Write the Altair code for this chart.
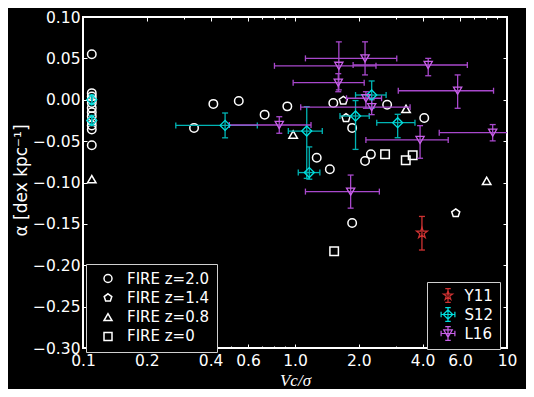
import altair as alt
import pandas as pd

W, H = 424, 331

# ---------------- data ----------------
# FIRE z=2.0 (circles)
fire_z20_x = [0.11, 0.11, 0.11, 0.11, 0.11, 0.11, 0.11, 0.11, 0.11, 0.11, 0.11, 0.11,
              0.334, 0.412, 0.543, 0.719, 0.92, 1.516, 2.72, 1.86, 4.07, 1.266, 1.46, 2.14, 2.28, 1.86]
fire_z20_y = [0.055, 0.008, 0.004, 0.0, -0.004, -0.010, -0.015, -0.020, -0.026, -0.031, -0.036, -0.055,
              -0.034, -0.005, -0.0015, -0.018, -0.008, -0.004, -0.006, -0.034, -0.022, -0.070, -0.084, -0.074, -0.066, -0.149]
# FIRE z=1.4 (pentagons)
fire_z14_x = [1.69, 1.74, 5.73]
fire_z14_y = [-0.001, -0.022, -0.137]
# FIRE z=0.8 (triangles)
fire_z08_x = [0.11, 0.98, 3.34, 8.02]
fire_z08_y = [-0.096, -0.042, -0.011, -0.098]
# FIRE z=0 (squares)
fire_z0_x = [2.66, 3.33, 3.59, 1.53]
fire_z0_y = [-0.066, -0.073, -0.067, -0.183]

fire_names = ["FIRE z=2.0", "FIRE z=1.4", "FIRE z=0.8", "FIRE z=0"]

# Y11
y11_x = [3.97]
y11_y = [-0.161]
y11_ymin = [-0.1816]
y11_ymax = [-0.141]

# S12
s12_x = [0.11, 0.11, 0.468, 2.30, 1.93, 3.05, 1.136, 1.168]
s12_y = [0.0, -0.025, -0.031, 0.0057, -0.0196, -0.0277, -0.0378, -0.088]
s12_xmin = [0.11, 0.11, 0.274, 1.93, 1.63, 2.43, 0.93, 1.036]
s12_xmax = [0.11, 0.11, 0.664, 2.69, 2.24, 3.68, 1.345, 1.31]
s12_ymin = [-0.006, -0.031, -0.046, -0.0103, -0.060, -0.0459, -0.095, -0.096]
s12_ymax = [0.006, -0.019, -0.016, 0.0227, -0.001, -0.0176, -0.0084, -0.057]

# L16
l16_x = [0.843, 1.61, 1.60, 2.14, 4.25, 5.85, 2.16, 2.30, 3.89, 8.56, 1.83]
l16_y = [-0.0305, 0.041, 0.0206, 0.050, 0.042, 0.0109, 0.0018, -0.009, -0.0486, -0.0398, -0.111]
l16_xmin = [0.49, 0.80, 0.98, 1.12, 1.88, 3.07, 1.75, 1.064, 2.16, 4.79, 1.12]
l16_xmax = [1.19, 2.41, 2.12, 3.02, 6.5, 8.64, 2.56, 3.49, 5.28, 12.3, 2.50]
l16_ymin = [-0.0405, 0.012, 0.0097, 0.030, 0.029, -0.0103, -0.0103, -0.018, -0.0707, -0.0497, -0.131]
l16_ymax = [-0.0205, 0.070, 0.0315, 0.070, 0.050, 0.030, 0.0097, 0.000, -0.0313, -0.030, -0.091]

obs_names = ["Y11", "S12", "L16"]

x_major = [0.1, 0.2, 0.4, 0.6, 1, 2, 4, 6, 10]
x_minor = [0.3, 0.5, 0.7, 0.8, 0.9, 3, 5, 7, 8, 9]
y_ticks = [-0.30, -0.25, -0.20, -0.15, -0.10, -0.05, 0.0, 0.05, 0.10]

# ---------------- styling ----------------
C_S12_LINE, C_S12 = "#00b4b4", "#00e0e0"
C_L16_LINE, C_L16 = "#a848cc", "#c860e8"
C_Y11 = "#d03232"

PENT = "M0,-1L0.951,-0.309L0.588,0.809L-0.588,0.809L-0.951,-0.309Z"


def star(r):
    pts = [(0, -1), (0.2245, -0.309), (0.951, -0.309), (0.363, 0.118), (0.588, 0.809),
           (0, 0.382), (-0.588, 0.809), (-0.363, 0.118), (-0.951, -0.309), (-0.2245, -0.309)]
    s = "M" + "L".join(f"{px * r:.3f},{py * r:.3f}" for px, py in pts) + "Z"
    return s


STAR = star(1)
VBAR = "M0,-1L0,1M-0.4,-1L0.4,-1M-0.4,1L0.4,1"
HBAR = "M-1,0L1,0M-1,-0.4L-1,0.4M1,-0.4L1,0.4"
LEG_Y11 = star(0.7) + VBAR
LEG_S12 = "M-0.68,0L0,-0.68L0.68,0L0,0.68Z" + VBAR + HBAR
LEG_L16 = "M-0.62,-0.54L0.62,-0.54L0,0.54Z" + VBAR + HBAR

xs = alt.Scale(type="log", domain=[0.1, 10], nice=False)
ys = alt.Scale(domain=[-0.30, 0.10], nice=False, zero=False)


def X(f, axis=None):
    return alt.X(f, type="quantitative", scale=xs, axis=axis)


def Y(f, axis=None):
    return alt.Y(f, type="quantitative", scale=ys, axis=axis)


def inward(orient, offset, values, size):
    return alt.Axis(orient=orient, offset=offset, values=values, labels=False, domain=False,
                    ticks=True, tickSize=size, tickColor="white", tickWidth=1, grid=False, title=None)


x_lab = alt.Axis(orient="bottom", values=x_major,
                 labelExpr="datum.value >= 9.99 ? '10' : format(datum.value, '.1f')",
                 ticks=False, domain=False, grid=False, labelPadding=5, labelFontSize=15.5,
                 labelColor="white", labelFont="DejaVu Sans", labelFlush=False, labelOverlap=False,
                 title="Vc/σ", titleFont="Liberation Serif", titleFontStyle="italic",
                 titleFontWeight="normal", titleFontSize=17, titleColor="white",
                 titleX=212, titleY=37, titleBaseline="alphabetic")
y_lab = alt.Axis(orient="left", values=y_ticks, format=".2f", ticks=False, domain=False, grid=False,
                 labelPadding=3, labelFontSize=15.5, labelColor="white", labelFont="DejaVu Sans",
                 labelFlush=False, labelOverlap=False,
                 title="α [dex kpc⁻¹]", titleFont="DejaVu Sans", titleFontSize=17,
                 titleFontWeight="normal", titleColor="white", titleX=-53, titleY=163)

leg1 = alt.Legend(title=None, orient="none", legendX=3, legendY=247, fillColor="black",
                  strokeColor="#d0d0d0", padding=7, labelColor="white", labelFont="DejaVu Sans",
                  labelFontSize=15, symbolSize=64, symbolStrokeColor="white", symbolStrokeWidth=1.5,
                  symbolOffset=7.5, labelOffset=11.5, rowPadding=3.3, cornerRadius=0)
leg2 = alt.Legend(title=None, orient="none", legendX=344, legendY=265, fillColor="black",
                  strokeColor="#d0d0d0", padding=6, labelColor="white", labelFont="DejaVu Sans",
                  labelFontSize=15, symbolSize=190, symbolStrokeWidth=1.2,
                  symbolOffset=7.5, labelOffset=9, rowPadding=0, cornerRadius=0)

# ---------------- frames ----------------
fire_df = pd.DataFrame({
    "x": fire_z20_x + fire_z14_x + fire_z08_x + fire_z0_x,
    "y": fire_z20_y + fire_z14_y + fire_z08_y + fire_z0_y,
    "z": [fire_names[0]] * len(fire_z20_x) + [fire_names[1]] * len(fire_z14_x)
         + [fire_names[2]] * len(fire_z08_x) + [fire_names[3]] * len(fire_z0_x),
})
s12_df = pd.DataFrame({"x": s12_x, "y": s12_y, "xmin": s12_xmin, "xmax": s12_xmax,
                       "ymin": s12_ymin, "ymax": s12_ymax})
l16_df = pd.DataFrame({"x": l16_x, "y": l16_y, "xmin": l16_xmin, "xmax": l16_xmax,
                       "ymin": l16_ymin, "ymax": l16_ymax})
y11_df = pd.DataFrame({"x": y11_x, "y": y11_y, "ymin": y11_ymin, "ymax": y11_ymax})
carrier_df = pd.DataFrame({"x": [0.05] * 3, "y": [0.0] * 3, "survey": obs_names})

# ---------------- layers ----------------
fire = alt.Chart(fire_df).mark_point(filled=False, color="white", strokeWidth=1.5, size=72, opacity=1).encode(
    x=X("x", x_lab), y=Y("y", y_lab),
    shape=alt.Shape("z:N", scale=alt.Scale(domain=fire_names, range=["circle", PENT, "triangle-up", "square"]),
                    legend=leg1),
)


def xbars(df, line_color, xaxis=None, yaxis=None):
    return alt.Chart(df).mark_rule(color=line_color, strokeWidth=1.3, clip=True).encode(
        x=X("xmin", xaxis), x2="xmax", y=Y("y", yaxis))


def ybars(df, line_color, xaxis=None, yaxis=None):
    return alt.Chart(df).mark_rule(color=line_color, strokeWidth=1.3, clip=True).encode(
        x=X("x", xaxis), y=Y("ymin", yaxis), y2="ymax")


def xcaps(df, line_color):
    return alt.Chart(df).transform_fold(["xmin", "xmax"], as_=["k", "xc"]).mark_tick(
        orient="vertical", size=6, thickness=1.3, color=line_color, opacity=1, clip=True).encode(
        x=X("xc:Q"), y=Y("y"))


def ycaps(df, line_color):
    return alt.Chart(df).transform_fold(["ymin", "ymax"], as_=["k", "yc"]).mark_tick(
        orient="horizontal", size=6, thickness=1.3, color=line_color, opacity=1, clip=True).encode(
        x=X("x"), y=Y("yc:Q"))


s12_xb = xbars(s12_df, C_S12_LINE, inward("top", -H, x_major, 4), inward("right", -W, y_ticks, 4))
s12_yb = ybars(s12_df, C_S12_LINE, inward("bottom", -H, x_major, 4), inward("left", -W, y_ticks, 4))
l16_xb = xbars(l16_df, C_L16_LINE, inward("top", -H, x_minor, 2))
l16_yb = ybars(l16_df, C_L16_LINE, inward("bottom", -H, x_minor, 2))
y11_yb = ybars(y11_df, C_Y11)

s12_pts = alt.Chart(s12_df).mark_point(filled=False, shape="diamond", size=100, color=C_S12,
                                       strokeWidth=1.3, opacity=1).encode(x=X("x"), y=Y("y"))
l16_pts = alt.Chart(l16_df).mark_point(filled=False, shape="triangle-down", size=68, color=C_L16,
                                       strokeWidth=1.3, opacity=1).encode(x=X("x"), y=Y("y"))
y11_pts = alt.Chart(y11_df).mark_point(filled=False, shape=STAR, size=130, color=C_Y11,
                                       strokeWidth=1.2, opacity=1).encode(x=X("x"), y=Y("y"))

carrier = alt.Chart(carrier_df).mark_point(filled=False, clip=True, opacity=1).encode(
    x=X("x"), y=Y("y"),
    shape=alt.Shape("survey:N", scale=alt.Scale(domain=obs_names, range=[LEG_Y11, LEG_S12, LEG_L16]),
                    legend=leg2),
    color=alt.Color("survey:N", scale=alt.Scale(domain=obs_names, range=[C_Y11, C_S12, C_L16]),
                    legend=leg2),
)

chart = alt.layer(
    fire,
    s12_xb, s12_yb, xcaps(s12_df, C_S12_LINE), ycaps(s12_df, C_S12_LINE),
    l16_xb, l16_yb, xcaps(l16_df, C_L16_LINE), ycaps(l16_df, C_L16_LINE),
    y11_yb, ycaps(y11_df, C_Y11),
    s12_pts, l16_pts, y11_pts,
    carrier,
).resolve_scale(shape="independent", color="independent").resolve_axis(
    x="independent", y="independent"
).properties(
    width=W, height=H,
    autosize=alt.AutoSizeParams(type="none"),
    padding={"left": 75, "top": 9, "right": 19, "bottom": 41},
    background="black",
).configure_view(stroke="white", strokeWidth=2)

chart.save("out.html", embed_options={"renderer": "svg", "actions": False})
